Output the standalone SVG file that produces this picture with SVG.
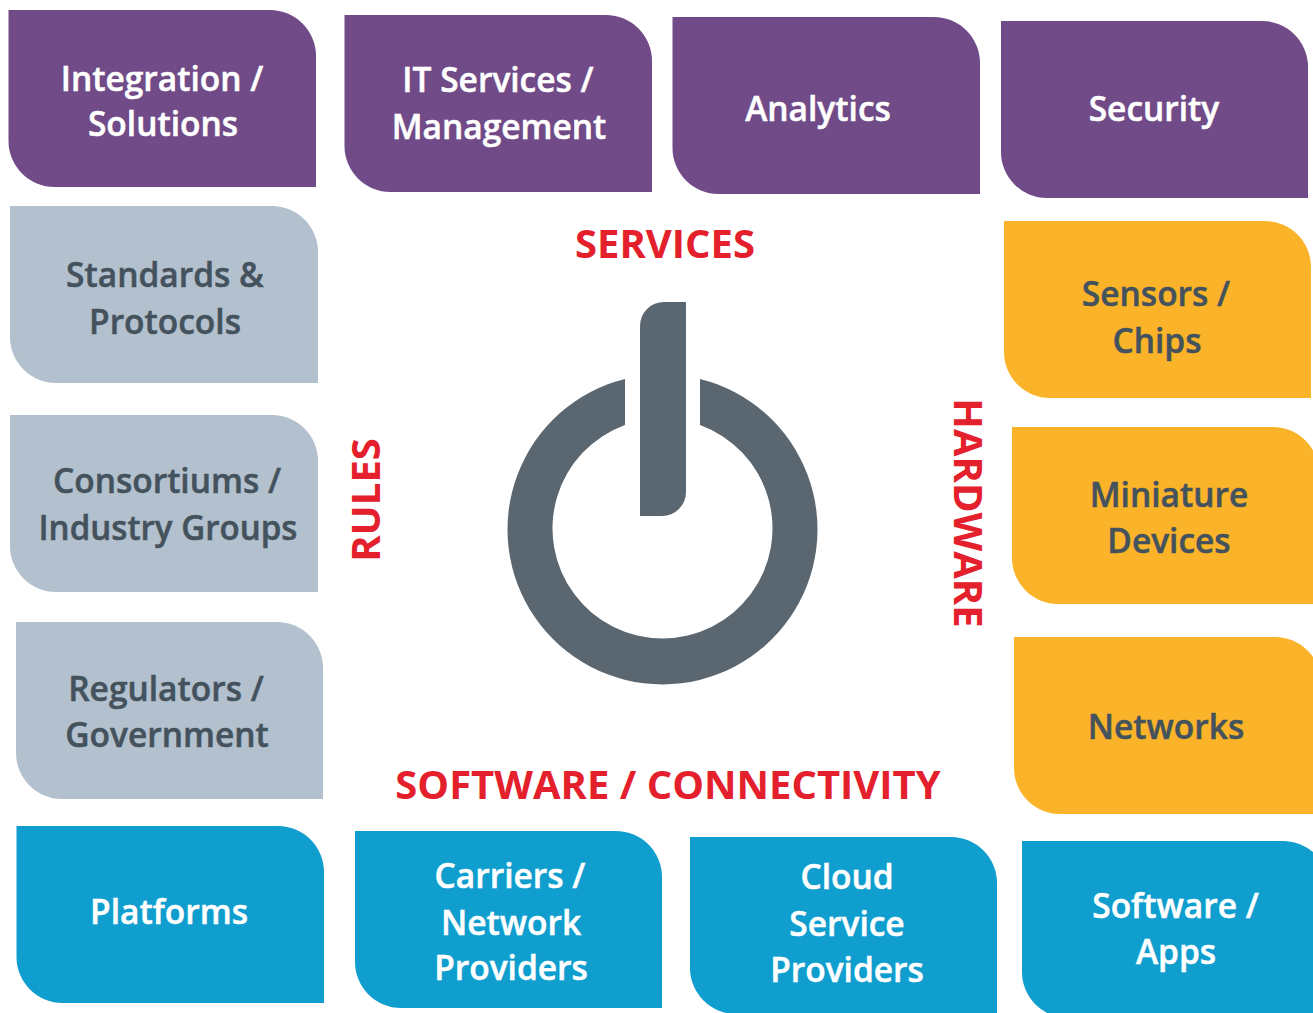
<svg xmlns="http://www.w3.org/2000/svg" width="1313" height="1013" viewBox="0 0 1313 1013">
<style>
text{font-family:"Open Sans","Noto Sans","Liberation Sans",sans-serif;font-weight:600;font-size:33.5px;text-anchor:middle;stroke-width:.5px}
.p path{fill:#704b88}.p text{fill:#fff;stroke:#fff}
.g path{fill:#b3c0cd}.g text{fill:#44525d;stroke:#44525d}
.y path{fill:#fbb42a}.y text{fill:#44525d;stroke:#44525d}
.b path{fill:#109ecf}.b text{fill:#fff;stroke:#fff}
#labels text{fill:#e3202c;font-size:40px;font-weight:700;stroke:none}
</style>
<rect width="1313" height="1013" fill="#fff"/>
<g id="integration" class="p"><path d="M8.500 10H270a46 46 0 0 1 46 46V187H54.500a46 46 0 0 1-46-46Z"/><text x="162" y="90.500">Integration /</text><text x="163" y="136">Solutions</text></g>
<g id="it-services" class="p"><path d="M344.500 15H606a46 46 0 0 1 46 46V192H390.500a46 46 0 0 1-46-46Z"/><text x="498" y="91.500">IT Services /</text><text x="499" y="138.500">Management</text></g>
<g id="analytics" class="p"><path d="M672.500 17H934a46 46 0 0 1 46 46V194H718.500a46 46 0 0 1-46-46Z"/><text x="818" y="120.500">Analytics</text></g>
<g id="security" class="p"><path d="M1001 21H1262a46 46 0 0 1 46 46V198H1047a46 46 0 0 1-46-46Z"/><text x="1154" y="120.500">Security</text></g>
<g id="standards" class="g"><path d="M10 206H272a46 46 0 0 1 46 46V383H56a46 46 0 0 1-46-46Z"/><text x="165" y="287">Standards &amp;</text><text x="165" y="334">Protocols</text></g>
<g id="consortiums" class="g"><path d="M10 415H272a46 46 0 0 1 46 46V592H56a46 46 0 0 1-46-46Z"/><text x="167" y="492.500" textLength="228" lengthAdjust="spacingAndGlyphs">Consortiums /</text><text x="168" y="539.500" textLength="259" lengthAdjust="spacingAndGlyphs">Industry Groups</text></g>
<g id="regulators" class="g"><path d="M16 622H277a46 46 0 0 1 46 46V799H62a46 46 0 0 1-46-46Z"/><text x="166" y="700.500">Regulators /</text><text x="167" y="746.500">Government</text></g>
<g id="sensors" class="y"><path d="M1004 221H1265a46 46 0 0 1 46 46V398H1050a46 46 0 0 1-46-46Z"/><text x="1156" y="305.500">Sensors /</text><text x="1157" y="352.500">Chips</text></g>
<g id="miniature" class="y"><path d="M1012 427H1273a46 46 0 0 1 46 46V604H1058a46 46 0 0 1-46-46Z"/><text x="1169" y="506.500">Miniature</text><text x="1169" y="552.500">Devices</text></g>
<g id="networks" class="y"><path d="M1014 637H1275a46 46 0 0 1 46 46V814H1060a46 46 0 0 1-46-46Z"/><text x="1166" y="738.500">Networks</text></g>
<g id="platforms" class="b"><path d="M16.500 826H278a46 46 0 0 1 46 46V1003H62.500a46 46 0 0 1-46-46Z"/><text x="169" y="923.500">Platforms</text></g>
<g id="carriers" class="b"><path d="M355 831H616a46 46 0 0 1 46 46V1008H401a46 46 0 0 1-46-46Z"/><text x="510" y="887.500">Carriers /</text><text x="511" y="934.500">Network</text><text x="511" y="980">Providers</text></g>
<g id="cloud" class="b"><path d="M690 837H951a46 46 0 0 1 46 46V1014H736a46 46 0 0 1-46-46Z"/><text x="847" y="888.500">Cloud</text><text x="847" y="935.500">Service</text><text x="847" y="982">Providers</text></g>
<g id="software" class="b"><path d="M1022 841H1283a46 46 0 0 1 46 46V1018H1068a46 46 0 0 1-46-46Z"/><text x="1175.500" y="917.500">Software /</text><text x="1176" y="963.500">Apps</text></g>
<g id="labels"><text x="665" y="257.500">SERVICES</text><text x="668" y="798.500">SOFTWARE / CONNECTIVITY</text><text transform="translate(380 500) rotate(-90)">RULES</text><text transform="translate(954 513) rotate(90)">HARDWARE</text></g>
<g id="power"><path fill="#5a6670" d="M625 379V425A110 110 0 1 0 700 425V379A155 155 0 1 1 625 379Z"/><path fill="#5a6670" d="M686 302V492a24 24 0 0 1-24 24H640V326a24 24 0 0 1 24-24Z"/></g>
</svg>
